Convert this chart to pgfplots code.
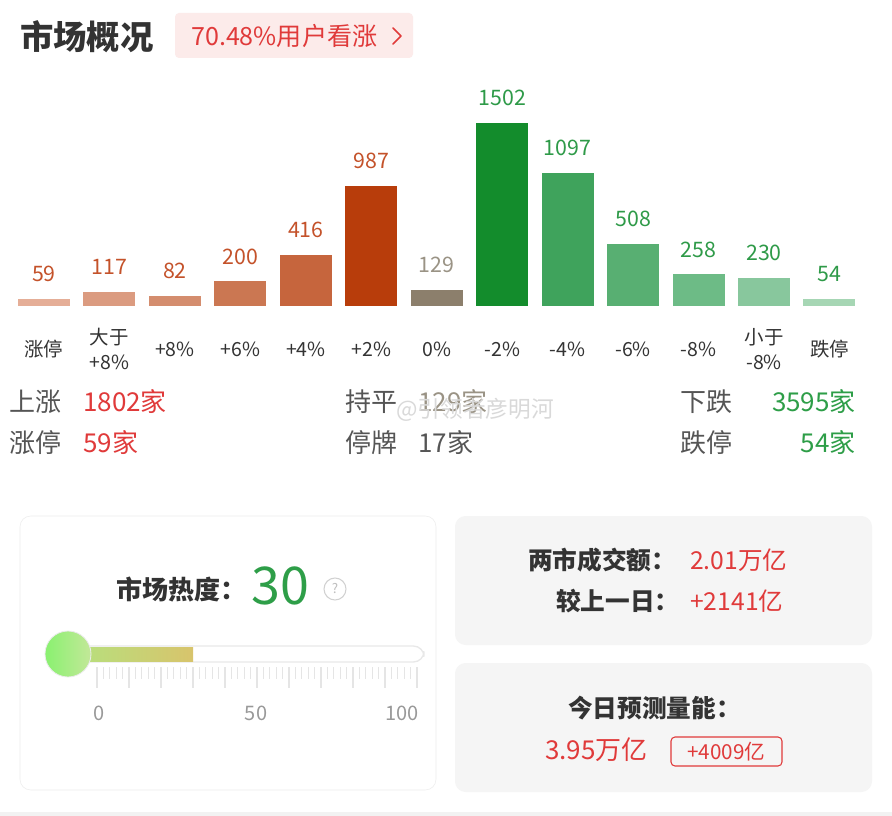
\documentclass[border=0pt]{standalone}
\usepackage{pgfplots}
\pgfplotsset{compat=1.18}
\usepackage{fontspec}
\setmainfont{Noto Sans CJK SC}
\newcommand\fs[2]{\fontsize{#1}{#2}\selectfont}
\definecolor{c333}{HTML}{333333}
\definecolor{c555}{HTML}{555555}
\definecolor{badge}{HTML}{FCEBEA}
\definecolor{vred}{HTML}{E03A3A}
\definecolor{vgreen}{HTML}{2E9E48}
\definecolor{lred}{HTML}{C4522A}
\definecolor{lgray}{HTML}{9A9385}
\definecolor{lgreen}{HTML}{2E9A48}
\definecolor{bA}{HTML}{E5AE97}
\definecolor{bB}{HTML}{DB9B80}
\definecolor{bC}{HTML}{D48D6E}
\definecolor{bD}{HTML}{CB7752}
\definecolor{bE}{HTML}{C6653D}
\definecolor{bF}{HTML}{B83D0B}
\definecolor{bG}{HTML}{8C7F6C}
\definecolor{bH}{HTML}{138C2C}
\definecolor{bI}{HTML}{3FA35C}
\definecolor{bJ}{HTML}{58AF72}
\definecolor{bK}{HTML}{6DBB86}
\definecolor{bL}{HTML}{88C79D}
\definecolor{bM}{HTML}{A6D6B4}
\definecolor{panel}{HTML}{F5F5F5}
\definecolor{gA}{HTML}{B4E27F}
\definecolor{gB}{HTML}{D8C46C}
\begin{document}
\begin{tikzpicture}
\begin{scope}[x=0.75pt,y=-0.75pt]
\fill[white] (0,0) rectangle (892,816);
\useasboundingbox (0,0) rectangle (892,816);
% title
\node[anchor=west,inner sep=0,text=c333] at (20,37) {\fs{25}{30}\bfseries 市场概况};
\fill[badge,rounded corners=3pt] (175,13) rectangle (413,58);
\node[anchor=west,inner sep=0,text=vred] at (191,36) {\fs{18.8}{22}70.48\%用户看涨};
\draw[vred,line width=1.2pt,line cap=round,line join=round] (393,28)--(401,36)--(393,44);
% stats rows
\begin{scope}[every node/.style={inner sep=0}]
\node[anchor=west,text=c555] at (9,402) {\fs{19.5}{22}上涨};
\node[anchor=west,text=vred] at (83,402) {\fs{19.5}{22}1802家};
\node[anchor=west,text=c555] at (345,402) {\fs{19.5}{22}持平};
\node[anchor=west,text=lgray] at (418,402) {\fs{19.5}{22}129家};
\node[anchor=west,text=c555] at (680,402) {\fs{19.5}{22}下跌};
\node[anchor=east,text=vgreen] at (856,402) {\fs{19.5}{22}3595家};
\node[anchor=west,text=c555] at (9,443) {\fs{19.5}{22}涨停};
\node[anchor=west,text=vred] at (83,443) {\fs{19.5}{22}59家};
\node[anchor=west,text=c555] at (345,443) {\fs{19.5}{22}停牌};
\node[anchor=west,text=c555] at (418,443) {\fs{19.5}{22}17家};
\node[anchor=west,text=c555] at (680,443) {\fs{19.5}{22}跌停};
\node[anchor=east,text=vgreen] at (856,443) {\fs{19.5}{22}54家};
\node[anchor=west,text=gray!30] at (396,410) {\fs{17}{20}@引领者彦明河};
\end{scope}
% panels
\filldraw[fill=white,draw=black!7,rounded corners=8pt] (20,516) rectangle (436,790);
\fill[panel,rounded corners=8pt] (455,516) rectangle (872,645);
\fill[panel,rounded corners=8pt] (455,663) rectangle (872,792);
\fill[black!5] (0,812) rectangle (892,816);
\begin{scope}[every node/.style={inner sep=0}]
\node[anchor=west,text=c333] at (116,590) {\fs{19.5}{22}\bfseries 市场热度：};
\node[anchor=west,text=vgreen] at (251,586) {\fs{39}{42}30};
\draw[black!18,line width=0.8pt] (335,589) circle (11);
\node[text=black!25] at (335,589) {\fs{10}{12}?};
\node[text=black!40] at (99,713) {\fs{15}{18}0};
\node[text=black!40] at (256,713) {\fs{15}{18}50};
\node[anchor=east,text=black!40] at (419,713) {\fs{15}{18}100};
\node[anchor=west,text=c333] at (528,560) {\fs{18.5}{22}\bfseries 两市成交额：};
\node[anchor=west,text=vred] at (690,560) {\fs{18.5}{22}2.01万亿};
\node[anchor=west,text=c333] at (556,601) {\fs{18.5}{22}\bfseries 较上一日：};
\node[anchor=west,text=vred] at (690,601) {\fs{18.5}{22}+2141亿};
\node[anchor=west,text=c333] at (568,708) {\fs{18.5}{22}\bfseries 今日预测量能：};
\node[anchor=west,text=vred] at (545,750) {\fs{19.5}{22}3.95万亿};
\draw[vred,rounded corners=3pt,line width=0.8pt] (671,737) rectangle (782,766);
\node[text=vred] at (726.5,751.5) {\fs{15.5}{18}+4009亿};
\end{scope}
% gauge tube and ticks
\filldraw[fill=white,draw=black!9,line width=1pt,rounded corners=8] (60,646) rectangle (424,662);
\foreach \i in {0,2,...,100} {
  \pgfmathsetmacro\xx{97+3.2*\i}
  \pgfmathtruncatemacro\mm{mod(\i,10)}
  \ifnum\mm=0
    \draw[black!10,line width=0.8pt] (\xx,667) -- (\xx,688);
  \else
    \draw[black!10,line width=0.8pt] (\xx,667) -- (\xx,679);
  \fi
}
\end{scope}
% gauge fill
\begin{axis}[at={(72.75pt,-496.5pt)},anchor=south west,scale only axis,
  width=240pt,height=12pt,xmin=0,xmax=100,ymin=-1,ymax=1,hide axis,clip=false]
\addplot[draw=none,no markers,left color=gA,right color=gB] coordinates {(-9,-0.875) (30,-0.875) (30,0.875) (-9,0.875)};
\end{axis}
\begin{scope}[x=0.75pt,y=-0.75pt]
\shade[left color=gA!60!green!80!white, right color=gA!80!white] (68,654) circle (23);
\draw[white!92!black,line width=0.6pt] (68,654) circle (23);
\end{scope}
% bar chart
\begin{axis}[at={(8.45pt,-229.3pt)},anchor=south west,scale only axis,
  width=638.2pt,height=163.9pt,xmin=-0.5,xmax=12.5,ymin=0,ymax=1800,
  ybar,bar width=39pt,
  axis line style={draw=none},tick style={draw=none},ytick=\empty,
  xtick={0,...,12},
  xticklabels={涨停,{大于\\+8\%},+8\%,+6\%,+4\%,+2\%,0\%,-2\%,-4\%,-6\%,-8\%,{小于\\-8\%},跌停},
  xticklabel style={anchor=center,yshift=-28.5pt,align=center,font=\fs{14.6}{18.75},text=c333},
  clip=false,
  /pgf/number format/assume math mode=true,
  /pgf/number format/1000 sep={},
  nodes near coords,
  nodes near coords style={anchor=center,yshift=18.75pt,font=\fs{16}{18}},
  every axis plot/.append style={bar shift=0pt,draw=none}]
\addplot[fill=bA,every node near coord/.append style={text=lred}] coordinates {(0,59)};
\addplot[fill=bB,every node near coord/.append style={text=lred}] coordinates {(1,117)};
\addplot[fill=bC,every node near coord/.append style={text=lred}] coordinates {(2,82)};
\addplot[fill=bD,every node near coord/.append style={text=lred}] coordinates {(3,200)};
\addplot[fill=bE,every node near coord/.append style={text=lred}] coordinates {(4,416)};
\addplot[fill=bF,every node near coord/.append style={text=lred}] coordinates {(5,987)};
\addplot[fill=bG,every node near coord/.append style={text=lgray}] coordinates {(6,129)};
\addplot[fill=bH,every node near coord/.append style={text=lgreen}] coordinates {(7,1502)};
\addplot[fill=bI,every node near coord/.append style={text=lgreen}] coordinates {(8,1097)};
\addplot[fill=bJ,every node near coord/.append style={text=lgreen}] coordinates {(9,508)};
\addplot[fill=bK,every node near coord/.append style={text=lgreen}] coordinates {(10,258)};
\addplot[fill=bL,every node near coord/.append style={text=lgreen}] coordinates {(11,230)};
\addplot[fill=bM,every node near coord/.append style={text=lgreen}] coordinates {(12,54)};
\end{axis}
\end{tikzpicture}
\end{document}
